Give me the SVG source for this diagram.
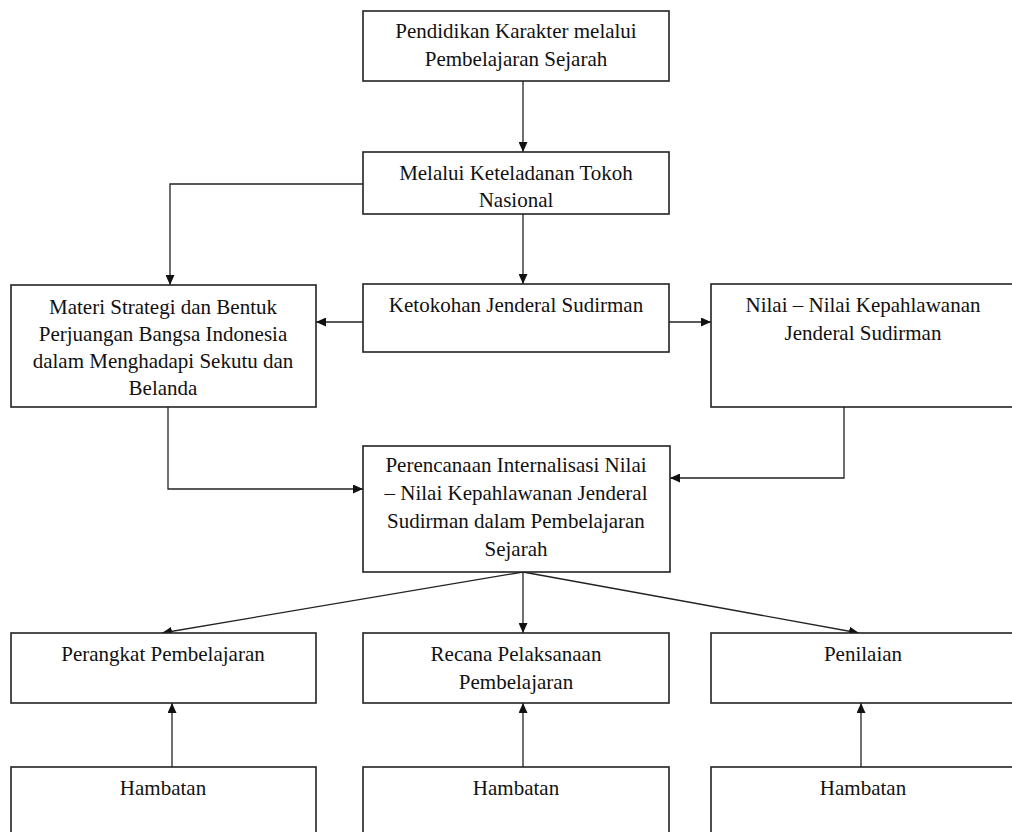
<svg xmlns="http://www.w3.org/2000/svg" width="1012" height="832" viewBox="0 0 1012 832">
<style>
.box{fill:#fff;stroke:#222;stroke-width:1.6}
.t{font-family:"Liberation Serif","Times New Roman",serif;font-size:21px;fill:#111;text-anchor:middle}
.c{fill:none;stroke:#222;stroke-width:1.3}
</style>
<defs>
<marker id="ah" markerUnits="userSpaceOnUse" markerWidth="10" markerHeight="9" refX="10" refY="4.5" orient="auto">
<path d="M0,0 L10,4.5 L0,9 z" fill="#111"/>
</marker>
</defs>
<rect width="1012" height="832" fill="#fff"/>
<g id="connectors">
<path class="c" d="M523,81 V152" marker-end="url(#ah)"/>
<path class="c" d="M363,184 H170 V285" marker-end="url(#ah)"/>
<path class="c" d="M523,214 V284" marker-end="url(#ah)"/>
<path class="c" d="M363,322 H316" marker-end="url(#ah)"/>
<path class="c" d="M669,322 H711" marker-end="url(#ah)"/>
<path class="c" d="M168,407 V489 H363" marker-end="url(#ah)"/>
<path class="c" d="M844,407 V478 H670" marker-end="url(#ah)"/>
<path class="c" d="M523,572 L162,633" marker-end="url(#ah)"/>
<path class="c" d="M523,572 V633" marker-end="url(#ah)"/>
<path class="c" d="M523,572 L859,633" marker-end="url(#ah)"/>
<path class="c" d="M172,767 V703" marker-end="url(#ah)"/>
<path class="c" d="M523,767 V703" marker-end="url(#ah)"/>
<path class="c" d="M861,767 V703" marker-end="url(#ah)"/>
</g>
<g id="n1"><rect class="box" x="363" y="11" width="306" height="70"/>
<text class="t" x="516" y="38">Pendidikan Karakter melalui</text>
<text class="t" x="516" y="66">Pembelajaran Sejarah</text></g>
<g id="n2"><rect class="box" x="363" y="152" width="306" height="62"/>
<text class="t" x="516" y="180">Melalui Keteladanan Tokoh</text>
<text class="t" x="516" y="207">Nasional</text></g>
<g id="n3"><rect class="box" x="11" y="285" width="305" height="122"/>
<text class="t" x="163" y="314">Materi Strategi dan Bentuk</text>
<text class="t" x="163" y="341">Perjuangan Bangsa Indonesia</text>
<text class="t" x="163" y="368">dalam Menghadapi Sekutu dan</text>
<text class="t" x="163" y="395">Belanda</text></g>
<g id="n4"><rect class="box" x="363" y="284" width="306" height="68"/>
<text class="t" x="516" y="312">Ketokohan Jenderal Sudirman</text></g>
<g id="n5"><rect class="box" x="711" y="284" width="312" height="123"/>
<text class="t" x="863" y="312">Nilai – Nilai Kepahlawanan</text>
<text class="t" x="863" y="340">Jenderal Sudirman</text></g>
<g id="n6"><rect class="box" x="363" y="446" width="307" height="126"/>
<text class="t" x="516" y="472">Perencanaan Internalisasi Nilai</text>
<text class="t" x="516" y="500">– Nilai Kepahlawanan Jenderal</text>
<text class="t" x="516" y="528">Sudirman dalam Pembelajaran</text>
<text class="t" x="516" y="556">Sejarah</text></g>
<g id="n7"><rect class="box" x="11" y="633" width="305" height="70"/>
<text class="t" x="163" y="661">Perangkat Pembelajaran</text></g>
<g id="n8"><rect class="box" x="363" y="633" width="306" height="70"/>
<text class="t" x="516" y="661">Recana Pelaksanaan</text>
<text class="t" x="516" y="689">Pembelajaran</text></g>
<g id="n9"><rect class="box" x="711" y="633" width="312" height="70"/>
<text class="t" x="863" y="661">Penilaian</text></g>
<g id="n10"><rect class="box" x="11" y="767" width="305" height="80"/>
<text class="t" x="163" y="795">Hambatan</text></g>
<g id="n11"><rect class="box" x="363" y="767" width="306" height="80"/>
<text class="t" x="516" y="795">Hambatan</text></g>
<g id="n12"><rect class="box" x="711" y="767" width="312" height="80"/>
<text class="t" x="863" y="795">Hambatan</text></g>
</svg>
